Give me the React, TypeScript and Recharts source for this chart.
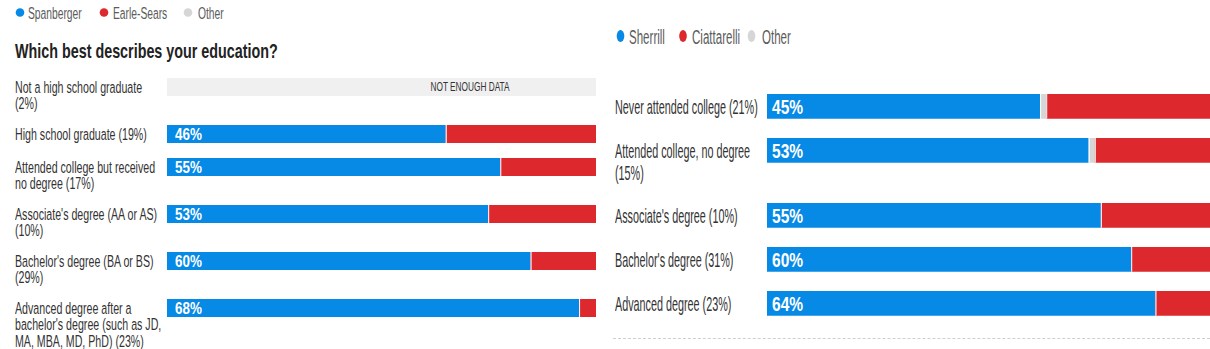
import React from 'react';
import { BarChart, Bar, XAxis, YAxis, LabelList } from 'recharts';

// the source uses a condensed face; Liberation Sans squeezed horizontally stands in for it
const FONT = '"Liberation Sans", Arial, sans-serif';
const BLUE = '#0789e6';
const RED = '#dd292d';
const GRAY = '#d6d6d6';
const NO_DATA_BG = '#f0f0f0';

// left panel
const leftLegend = ['Spanberger', 'Earle-Sears', 'Other'];
const leftTitle = 'Which best describes your education?';
const leftLabels = [
  ['Not a high school graduate', '(2%)'],
  ['High school graduate (19%)'],
  ['Attended college but received', 'no degree (17%)'],
  ["Associate's degree (AA or AS)", '(10%)'],
  ["Bachelor's degree (BA or BS)", '(29%)'],
  ['Advanced degree after a', "bachelor's degree (such as JD,", 'MA, MBA, MD, PhD) (23%)'],
];
const spanberger = [null, 46, 55, 53, 60, 68];
const leftOther = [null, 0, 0, 0, 0, 0];
const earleSears = [null, 53, 44, 46, 39, 31];

// right panel
const rightLegend = ['Sherrill', 'Ciattarelli', 'Other'];
const rightLabels = [
  ['Never attended college (21%)'],
  ['Attended college, no degree', '(15%)'],
  ["Associate's degree (10%)"],
  ["Bachelor's degree (31%)"],
  ['Advanced degree (23%)'],
];
const sherrill = [45, 53, 55, 60, 64];
const rightOther = [1, 1, 0, 0, 0];
const ciattarelli = [54, 46, 45, 40, 36];

const NO_DATA = 'NOT ENOUGH DATA';
const LEGEND_COLORS = [BLUE, RED, GRAY];

type Cfg = {
  left: number;
  clipW: number;
  rowsTop: number;
  axisW: number;
  plotW: number;
  barH: number;
  rowBase: number;
  perLine: number;
  lineH: number;
  labelSize: number;
  labelSx: number;
  valueSize: number;
  valueSx: number;
  valuePad: number;
};

const leftCfg: Cfg = {
  left: 15, clipW: 581, rowsTop: 77,
  axisW: 152, plotW: 606, barH: 20,
  rowBase: 32.5, perLine: 14.5, lineH: 16.5,
  labelSize: 16.5, labelSx: 0.645,
  valueSize: 17, valueSx: 0.79, valuePad: 8,
};

const rightCfg: Cfg = {
  left: 615, clipW: 595, rowsTop: 93,
  axisW: 152, plotW: 607, barH: 27.5,
  rowBase: 44, perLine: 21, lineH: 22,
  labelSize: 20, labelSx: 0.54,
  valueSize: 21, valueSx: 0.74, valuePad: 5,
};

const LabelTick = (props: any) => {
  const { y, lines, cfg } = props;
  return (
    <text transform={`translate(0 ${y}) scale(${cfg.labelSx} 1)`} fill="#333" fontSize={cfg.labelSize} fontFamily={FONT}>
      {lines.map((l: string, i: number) => (
        <tspan key={i} x={0} dy={i === 0 ? '0.34em' : cfg.lineH}>{l}</tspan>
      ))}
    </text>
  );
};

const ValueLabel = (props: any) => {
  const { x, y, height, value, cfg } = props;
  return (
    <text transform={`translate(${x + cfg.valuePad} ${y + height / 2}) scale(${cfg.valueSx} 1)`} dy="0.36em"
      fill="#fff" fontWeight="bold" fontSize={cfg.valueSize} fontFamily={FONT}>
      {value}%
    </text>
  );
};

const NoDataLabel = (props: any) => {
  const { x, y, width, height } = props;
  return (
    <text transform={`translate(${x + width / 2} ${y + height / 2}) scale(0.69 1)`} dy="0.36em" textAnchor="middle"
      fill="#333" fontSize={12} fontFamily={FONT}>
      {NO_DATA}
    </text>
  );
};

const SepRect = (p: any) => {
  if (!p.width || p.width <= 0) return <g />;
  return (
    <g>
      <rect x={p.x} y={p.y} width={p.width} height={p.height} fill={p.fill} />
      <line x1={p.x + 0.5} x2={p.x + 0.5} y1={p.y} y2={p.y + p.height} stroke="#fff" strokeWidth={1} />
    </g>
  );
};

function Row({ lines, a, o, b, cfg }: { lines: string[]; a: number | null; o: number | null; b: number | null; cfg: Cfg }) {
  const h = cfg.rowBase + (lines.length - 1) * cfg.perLine;
  const noData = a === null;
  const data = [noData ? { name: lines.join(' '), empty: 100 } : { name: lines.join(' '), a, o, b }];
  return (
    <BarChart width={cfg.axisW + cfg.plotW} height={h} data={data} layout="vertical"
      margin={{ top: 0, right: 0, left: 0, bottom: h - cfg.barH }} barCategoryGap={0}>
      <XAxis type="number" domain={[0, 100]} hide />
      <YAxis type="category" dataKey="name" width={cfg.axisW} axisLine={false} tickLine={false}
        tick={<LabelTick lines={lines} cfg={cfg} />} />
      {noData ? (
        <Bar dataKey="empty" fill={NO_DATA_BG} barSize={cfg.barH} isAnimationActive={false}>
          <LabelList content={<NoDataLabel />} />
        </Bar>
      ) : null}
      {!noData ? (
        <Bar dataKey="a" stackId="s" fill={BLUE} barSize={cfg.barH} isAnimationActive={false}>
          <LabelList dataKey="a" content={<ValueLabel cfg={cfg} />} />
        </Bar>
      ) : null}
      {!noData ? <Bar dataKey="o" stackId="s" fill={GRAY} barSize={cfg.barH} shape={<SepRect />} isAnimationActive={false} /> : null}
      {!noData ? <Bar dataKey="b" stackId="s" fill={RED} barSize={cfg.barH} shape={<SepRect />} isAnimationActive={false} /> : null}
    </BarChart>
  );
}

function Rows({ cfg, labels, a, o, b }: {
  cfg: Cfg; labels: string[][]; a: (number | null)[]; o: (number | null)[]; b: (number | null)[];
}) {
  return (
    <div style={{ position: 'absolute', top: cfg.rowsTop, left: cfg.left, width: cfg.clipW, overflow: 'hidden' }}>
      {labels.map((lines, i) => (
        <div key={i} style={{ lineHeight: 0 }}>
          <Row lines={lines} a={a[i]} o={o[i]} b={b[i]} cfg={cfg} />
        </div>
      ))}
    </div>
  );
}

// legend item placement (dot centre, text start) read from the source
const leftLegendX = [[20, 28], [104, 113], [188, 198]];
const rightLegendX = [[620.5, 629], [683, 692], [751.5, 762]];

function Header() {
  return (
    <svg width={1210} height={70} style={{ position: 'absolute', left: 0, top: 0 }}>
      {leftLegend.map((n, i) => (
        <g key={n}>
          <circle cx={leftLegendX[i][0]} cy={12.5} r={4.3} fill={LEGEND_COLORS[i]} />
          <text transform={`translate(${leftLegendX[i][1]} 12.5) scale(0.605 1)`} dy="0.36em" fontSize={17} fill="#5c5c5c" fontFamily={FONT}>{n}</text>
        </g>
      ))}
      <text transform="translate(15 51) scale(0.717 1)" dy="0.36em" fontSize={20} fontWeight="bold" fill="#222" fontFamily={FONT}>
        {leftTitle}
      </text>
      {rightLegend.map((n, i) => (
        <g key={n}>
          <ellipse cx={rightLegendX[i][0]} cy={36} rx={3.8} ry={6} fill={LEGEND_COLORS[i]} />
          <text transform={`translate(${rightLegendX[i][1]} 36) scale(0.55 1)`} dy="0.36em" fontSize={21} fill="#5c5c5c" fontFamily={FONT}>{n}</text>
        </g>
      ))}
    </svg>
  );
}

export default function App() {
  return (
    <div style={{ position: 'absolute', left: 0, top: 0, width: 1210, height: 349, overflow: 'hidden', background: '#fff', fontFamily: FONT }}>
      <Header />
      <Rows cfg={leftCfg} labels={leftLabels} a={spanberger} o={leftOther} b={earleSears} />
      <Rows cfg={rightCfg} labels={rightLabels} a={sherrill} o={rightOther} b={ciattarelli} />
      <div style={{ position: 'absolute', left: 613, top: 338, width: 597, borderTop: '1px dashed #cfcfcf' }} />
    </div>
  );
}
